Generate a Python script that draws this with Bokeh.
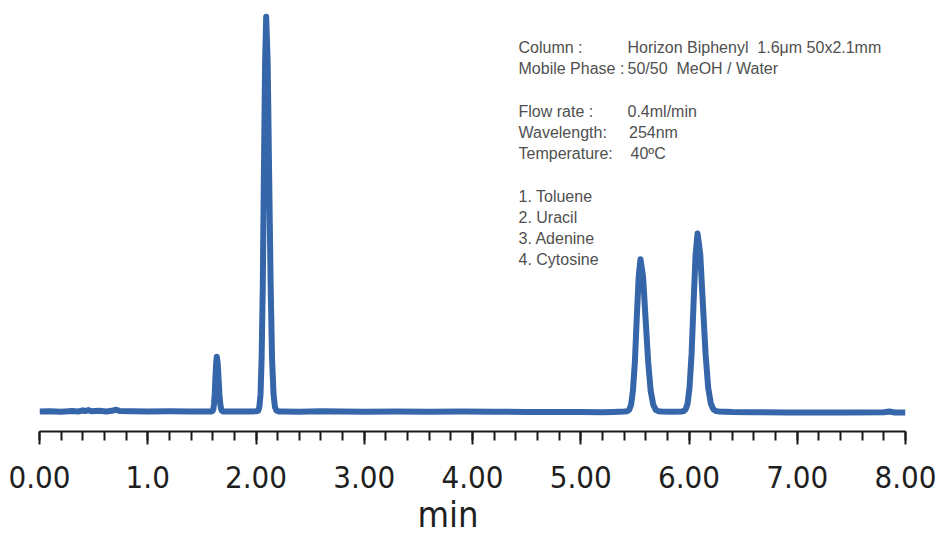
from bokeh.plotting import figure
from bokeh.models import Range1d, FixedTicker, Label, ColumnDataSource, Title
from bokeh.embed import file_html
from bokeh.resources import INLINE

# ---------------- data ----------------
time_min = [
    0.00, 0.10, 0.20, 0.30, 0.36, 0.40, 0.42, 0.45, 0.48, 0.55, 0.62, 0.68, 0.71, 0.74, 0.85, 1.00, 1.20, 1.40, 1.55,
    1.585, 1.593, 1.599, 1.606, 1.612, 1.619, 1.625, 1.632, 1.638, 1.646, 1.654, 1.662, 1.670, 1.678, 1.686, 1.694, 1.72,
    1.85, 1.95, 2.005,
    2.021, 2.031, 2.042, 2.052, 2.063, 2.073, 2.084, 2.094, 2.108, 2.121, 2.135, 2.148, 2.162, 2.175, 2.189, 2.21,
    2.25, 2.40, 2.60, 2.80, 3.00, 3.30, 3.60, 3.90, 4.20, 4.50, 4.80, 5.00, 5.20, 5.30, 5.40,
    5.430, 5.447, 5.465, 5.482, 5.500, 5.517, 5.535, 5.552, 5.576, 5.599, 5.623, 5.646, 5.670, 5.693, 5.717,
    5.75, 5.85, 5.93,
    5.950, 5.968, 5.987, 6.005, 6.024, 6.042, 6.061, 6.079, 6.104, 6.128, 6.153, 6.177, 6.202, 6.226, 6.251,
    6.28, 6.40, 6.60, 6.90, 7.20, 7.50, 7.80, 7.85, 7.90, 8.00,
]
signal = [
    0.00, 0.05, -0.05, 0.10, 0.00, 0.30, 0.10, 0.35, 0.05, 0.20, 0.00, 0.25, 0.45, 0.10, 0.05, 0.00, 0.05, 0.00, 0.00,
    0.00, 0.03, 0.15, 0.61, 1.88, 4.51, 8.43, 12.27, 13.90, 12.27, 8.43, 4.51, 1.88, 0.61, 0.15, 0.03, 0.00,
    0.00, 0.02, 0.05,
    0.22, 1.11, 4.39, 13.53, 32.47, 60.65, 88.25, 100.0, 88.25, 60.65, 32.47, 13.53, 4.39, 1.11, 0.22, 0.03,
    0.02, -0.05, 0.05, 0.00, -0.05, 0.00, -0.05, 0.00, -0.05, -0.10, -0.15, -0.15, -0.20, -0.10, 0.00,
    0.08, 0.43, 1.69, 5.22, 12.53, 23.41, 34.06, 38.60, 34.06, 23.41, 12.53, 5.22, 1.69, 0.43, 0.08,
    0.00, -0.05, 0.00,
    0.10, 0.50, 1.98, 6.10, 14.64, 27.35, 39.80, 45.10, 39.80, 27.35, 14.64, 6.10, 1.98, 0.50, 0.10,
    0.00, -0.15, -0.20, -0.25, -0.25, -0.25, -0.20, 0.00, -0.25, -0.25,
]

tick_values = [0, 1, 2, 3, 4, 5, 6, 7, 8]
tick_labels = ["0.00", "1.0", "2.00", "3.00", "4.00", "5.00", "6.00", "7.00", "8.00"]
minor_tick_values = [round(0.2 * i, 1) for i in range(41)]

x_title = "min"
info_names = ["Column :", "Mobile Phase :", "Flow rate :", "Wavelength:", "Temperature:"]
info_values = ["Horizon Biphenyl\u00a0 1.6\u03bcm 50x2.1mm", "50/50\u00a0 MeOH / Water", "0.4ml/min", "254nm", "40\u00baC"]
compounds = ["1. Toluene", "2. Uracil", "3. Adenine", "4. Cytosine"]

# ---------------- figure ----------------
Y0, Y1 = -5.067, 102.36
W, H = 937, 536
BL, BR, BT, BB = 39, 32, 7, 105

p = figure(width=W, height=H, output_backend="svg", toolbar_location=None,
           x_range=Range1d(0, 8), y_range=Range1d(Y0, Y1),
           min_border_left=BL, min_border_right=BR, min_border_top=BT, min_border_bottom=BB,
           background_fill_color="white", border_fill_color="white")
p.outline_line_color = None
p.grid.visible = False
p.yaxis.visible = False

src = ColumnDataSource(dict(t=time_min, s=signal))
p.line("t", "s", source=src, line_width=6, line_color="#3566a9", line_join="round")

NARROW = "'DejaVu Sans Condensed', 'Liberation Sans Narrow', sans-serif"

ax = p.xaxis[0]
ax.ticker = FixedTicker(ticks=tick_values, minor_ticks=minor_tick_values)
ax.major_label_overrides = {v: l for v, l in zip(tick_values, tick_labels)}
ax.axis_line_color = "#1a1a1a"
ax.axis_line_width = 2
ax.major_tick_in = 0
ax.major_tick_out = 13
ax.minor_tick_in = 0
ax.minor_tick_out = 9
ax.major_tick_line_color = "#1a1a1a"
ax.minor_tick_line_color = "#1a1a1a"
ax.major_tick_line_width = 2
ax.minor_tick_line_width = 2
ax.major_label_text_font = NARROW
ax.major_label_text_font_size = "31px"
ax.major_label_text_color = "#1f1f1f"
ax.major_label_standoff = 21

# axis title, slightly left of the frame centre as in the reference
p.add_layout(Title(text=x_title, align="left", offset=378, standoff=3,
                   text_font=NARROW, text_font_size="36px", text_font_style="normal",
                   text_color="#1f1f1f"), "below")

# page-pixel -> data helpers (frame spans page x 40..906, page y 8..432)
def dx(px):
    return (px - 40) / (866 / 8)

def dy(py):
    return Y0 + (432 - py) / 424 * (Y1 - Y0)

TXT = dict(text_font="Liberation Sans", text_font_size="16px", text_color="#505050",
           text_baseline="alphabetic", text_align="left")
name_rows = [48, 69, 111.5, 132.5, 154]
value_x = [628, 628, 628, 629.5, 631]
for name, val, py, vx in zip(info_names, info_values, name_rows, value_x):
    p.add_layout(Label(x=dx(519), y=dy(py), text=name, **TXT))
    p.add_layout(Label(x=dx(vx), y=dy(py), text=val, **TXT))
for c, py in zip(compounds, [196.5, 217.5, 239, 260]):
    p.add_layout(Label(x=dx(519), y=dy(py), text=c, **TXT))

open("out.html", "w").write(file_html(p, INLINE))
